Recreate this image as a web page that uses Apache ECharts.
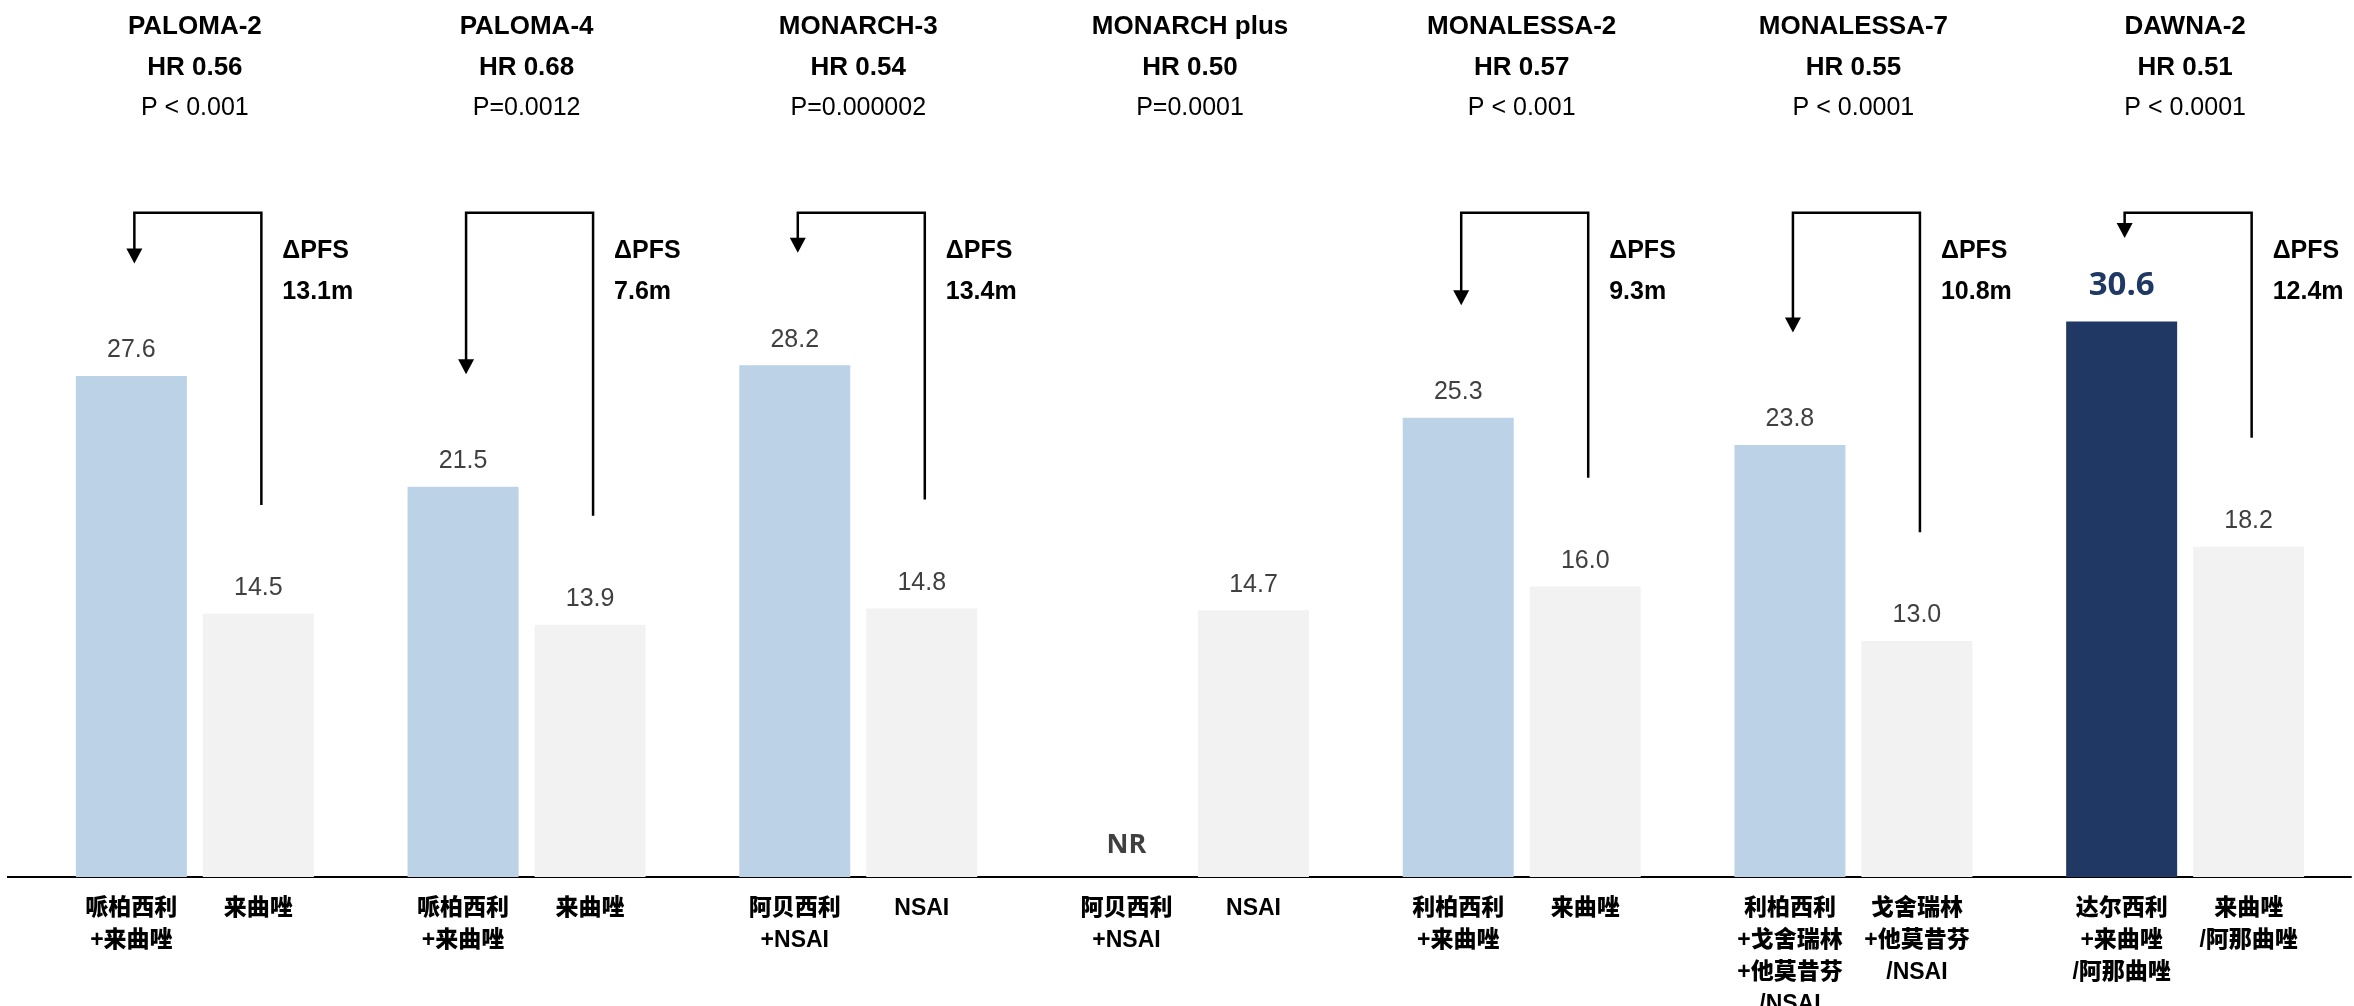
<!DOCTYPE html>
<html>
<head>
<meta charset="utf-8">
<script src="https://cdn.jsdelivr.net/npm/echarts@6/dist/echarts.min.js"></script>
<style>
  html, body { margin: 0; padding: 0; background: #fff; }
  #chart { width: 2354px; height: 1006px; }
</style>
</head>
<body>
<div id="chart"></div>
<script>
// studies and header texts
const studies = ["PALOMA-2", "PALOMA-4", "MONARCH-3", "MONARCH plus", "MONALESSA-2", "MONALESSA-7", "DAWNA-2"];
const hrValues = ["0.56", "0.68", "0.54", "0.50", "0.57", "0.55", "0.51"];
const pValues = ["P < 0.001", "P=0.0012", "P=0.000002", "P=0.0001", "P < 0.001", "P < 0.0001", "P < 0.0001"];

// median PFS (months), null = NR
const comboPfs = [27.6, 21.5, 28.2, null, 25.3, 23.8, 30.6];
const controlPfs = [14.5, 13.9, 14.8, 14.7, 16.0, 13.0, 18.2];

// arm names under the bars
const comboNames = ["哌柏西利\n+来曲唑", "哌柏西利\n+来曲唑", "阿贝西利\n+NSAI", "阿贝西利\n+NSAI", "利柏西利\n+来曲唑", "利柏西利\n+戈舍瑞林\n+他莫昔芬\n/NSAI", "达尔西利\n+来曲唑\n/阿那曲唑"];
const controlNames = ["来曲唑", "来曲唑", "NSAI", "NSAI", "来曲唑", "戈舍瑞林\n+他莫昔芬\n/NSAI", "来曲唑\n/阿那曲唑"];

const highlightIndex = 6; // DAWNA-2

const BAR_W = 111;
const BAR_SPACE = 16;
const LATIN = "'Liberation Sans', Arial, 'Noto Sans CJK SC', sans-serif";
const CJK = "'Liberation Sans', 'Noto Sans CJK SC', sans-serif";

const chart = echarts.init(document.getElementById("chart"));

const valueLabel = {
  show: true,
  position: "top",
  distance: 13,
  color: "#404040",
  fontSize: 25,
  fontFamily: LATIN,
  formatter: p => p.value == null ? "" : Number(p.value).toFixed(1)
};

const comboData = comboPfs.map((v, i) => {
  if (i !== highlightIndex) return v == null ? "-" : v;
  return {
    value: v,
    itemStyle: { color: "#203864" },
    label: { color: "#203864", fontSize: 33, fontWeight: "bold", fontFamily: "'Open Sans', sans-serif", distance: 20 }
  };
});

// brackets, delta labels, NR and arm names
function renderNotes(params, api) {
  const i = api.value(0);
  const c = api.coord([i, 0]);
  const cell = api.size([1, 0])[0];
  const half = (BAR_W + BAR_SPACE) / 2;
  const xb = c[0] - half + 3;
  const xg = c[0] + half + 3;
  const base = c[1];
  const kids = [];
  if (i === 0) {
    // baseline runs a little past the first category
    kids.push({ type: "line", shape: { x1: c[0] - cell / 2 - 22, y1: base, x2: c[0] - cell / 2, y2: base }, style: { stroke: "#000", lineWidth: 2 } });
  }
  const nameStyle = { fill: "#000", fontSize: 23, fontWeight: 900, fontFamily: CJK, align: "center", verticalAlign: "top", lineHeight: 32 };
  kids.push({ type: "text", style: Object.assign({ x: c[0] - half, y: base + 16, text: comboNames[i] }, nameStyle) });
  kids.push({ type: "text", style: Object.assign({ x: c[0] + half, y: base + 16, text: controlNames[i] }, nameStyle) });

  const a = comboPfs[i], b = controlPfs[i];
  if (a == null) {
    kids.push({ type: "text", style: { x: c[0] - half, y: base - 32, text: "NR", fill: "#404040", fontSize: 27, fontWeight: "bold", fontFamily: "'Open Sans', sans-serif", align: "center", verticalAlign: "middle" } });
    return { type: "group", children: kids };
  }
  const top = api.coord([i, 36.6])[1];
  const tip = api.coord([i, Math.min(a + 6.2, 35.2)])[1];
  const foot = api.coord([i, b + 6])[1];
  kids.push({
    type: "polyline",
    shape: { points: [[xg, foot], [xg, top], [xb, top], [xb, tip - 14]] },
    style: { stroke: "#000", lineWidth: 2.5, fill: null }
  });
  kids.push({
    type: "polygon",
    shape: { points: [[xb - 8, tip - 15], [xb + 8, tip - 15], [xb, tip]] },
    style: { fill: "#000" }
  });
  const dStyle = { fill: "#000", fontSize: 25, fontWeight: "bold", fontFamily: LATIN, align: "left", verticalAlign: "middle" };
  kids.push({ type: "text", style: Object.assign({ x: xg + 21, y: api.coord([i, 34.5])[1], text: "ΔPFS" }, dStyle) });
  kids.push({ type: "text", style: Object.assign({ x: xg + 21, y: api.coord([i, 32.2])[1], text: (a - b).toFixed(1) + "m" }, dStyle) });
  return { type: "group", children: kids };
}

chart.setOption({
  animation: false,
  backgroundColor: "#fff",
  grid: { left: 29, right: 3, top: 151, bottom: 129 },
  xAxis: [
    {
      type: "category",
      data: studies,
      axisLine: { show: true, lineStyle: { color: "#000", width: 2 } },
      axisTick: { show: false },
      axisLabel: { show: false }
    },
    {
      type: "category",
      position: "top",
      data: studies,
      axisLine: { show: false },
      axisTick: { show: false },
      axisLabel: {
        interval: 0,
        margin: 22,
        formatter: (v, idx) => `{n|${v}}\n{h|HR ${hrValues[idx]}}\n{p|${pValues[idx]}}`,
        rich: {
          n: { fontSize: 26, fontWeight: "bold", color: "#000", fontFamily: LATIN, lineHeight: 41 },
          h: { fontSize: 26, fontWeight: "bold", color: "#000", fontFamily: LATIN, lineHeight: 41 },
          p: { fontSize: 25, color: "#000", fontFamily: LATIN, lineHeight: 41 }
        }
      }
    }
  ],
  yAxis: {
    type: "value",
    min: 0,
    max: 40,
    show: false,
    splitLine: { show: false }
  },
  series: [
    {
      name: "combo",
      type: "bar",
      barWidth: BAR_W,
      barGap: (BAR_SPACE / BAR_W * 100).toFixed(1) + "%",
      itemStyle: { color: "#bcd2e6" },
      label: valueLabel,
      data: comboData
    },
    {
      name: "control",
      type: "bar",
      barWidth: BAR_W,
      itemStyle: { color: "#f2f2f2" },
      label: valueLabel,
      data: controlPfs
    },
    {
      name: "notes",
      type: "custom",
      xAxisIndex: 0,
      silent: true,
      z: 5,
      renderItem: renderNotes,
      encode: { x: 0, y: 1 },
      data: studies.map((s, i) => [i, 0])
    }
  ]
});
</script>
</body>
</html>
